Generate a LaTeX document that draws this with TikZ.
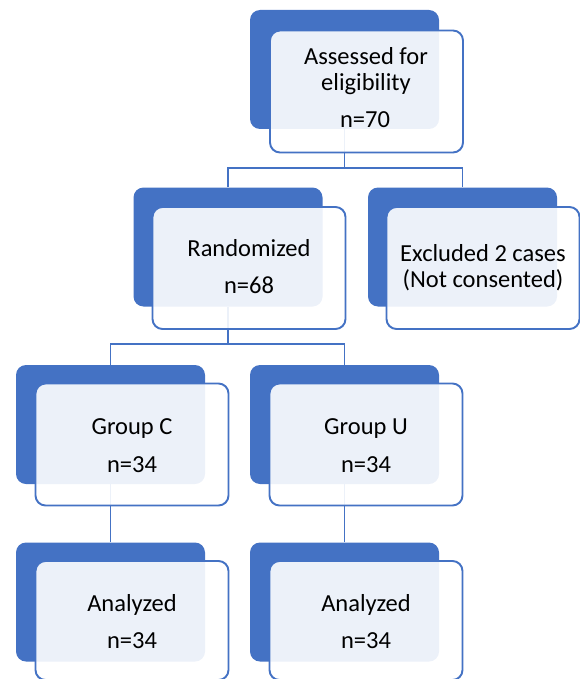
\documentclass[tikz,border=0pt]{standalone}
\usepackage{fontspec}
\setmainfont{Carlito}
\definecolor{obl}{HTML}{4472C4}
\begin{document}
\begin{tikzpicture}[x=1pt,y=-1pt,
 back/.style={fill=obl, rounded corners=10pt, minimum width=189pt, minimum height=119pt, inner sep=0pt},
 front/.style={fill=white, fill opacity=0.9, draw=obl, line width=1.9pt, rounded corners=10pt, minimum width=193pt, minimum height=122pt, inner sep=0pt},
 link/.style={draw=obl, line width=1.9pt},
 txt/.style={anchor=base, inner sep=0pt, font=\fontsize{24.5}{26}\selectfont}]
\useasboundingbox (0,0) rectangle (580,679);
% back boxes
\node[back] (aB) at (344.5,69.5) {};
\node[back] (rB) at (228,247) {};
\node[back] (eB) at (462.5,247) {};
\node[back] (cB) at (110.5,424.5) {};
\node[back] (uB) at (344.5,424.5) {};
\node[back] (acB) at (110.5,602) {};
\node[back] (auB) at (344.5,602) {};
% connectors
\coordinate (j1) at (0,168);
\coordinate (j2) at (0,344);
\draw[link] (aB.south) -- (aB.south |- j1);
\draw[link] (rB.north) -- (rB.north |- j1) -- (eB.north |- j1) -- (eB.north);
\draw[link] (rB.south) -- (rB.south |- j2);
\draw[link] (cB.north) -- (cB.north |- j2) -- (uB.north |- j2) -- (uB.north);
\draw[link] (cB.south) -- (acB.north);
\draw[link] (uB.south) -- (auB.north);
% front boxes
\node[front] (aF) at (366.5,91.5) {};
\node[front] (rF) at (249,268) {};
\node[front] (eF) at (483,268) {};
\node[front] (cF) at (132,444.5) {};
\node[front] (uF) at (366,444.5) {};
\node[front, minimum height=119pt] (acF) at (132,620.5) {};
\node[front, minimum height=119pt] (auF) at (366,620.5) {};
% texts
\node[txt] (t1) at (366,65) {Assessed for};
\node[txt] (t2) at (366,90.5) {eligibility};
\node[txt] (t3) at (365,128) {n=70};
\node[txt] (t4) at (249,256) {Randomized};
\node[txt] (t5) at (249,293) {n=68};
\node[txt] (t6) at (483,261) {Excluded 2 cases};
\node[txt] (t7) at (483,287) {(Not consented)};
\node[txt] (t8) at (132,434) {Group C};
\node[txt] (t9) at (132,472) {n=34};
\node[txt] (t10) at (366,434) {Group U};
\node[txt] (t11) at (366,472) {n=34};
\node[txt] (t12) at (132,611) {Analyzed};
\node[txt] (t13) at (132,648) {n=34};
\node[txt] (t14) at (366,611) {Analyzed};
\node[txt] (t15) at (366,648) {n=34};
\end{tikzpicture}
\end{document}
